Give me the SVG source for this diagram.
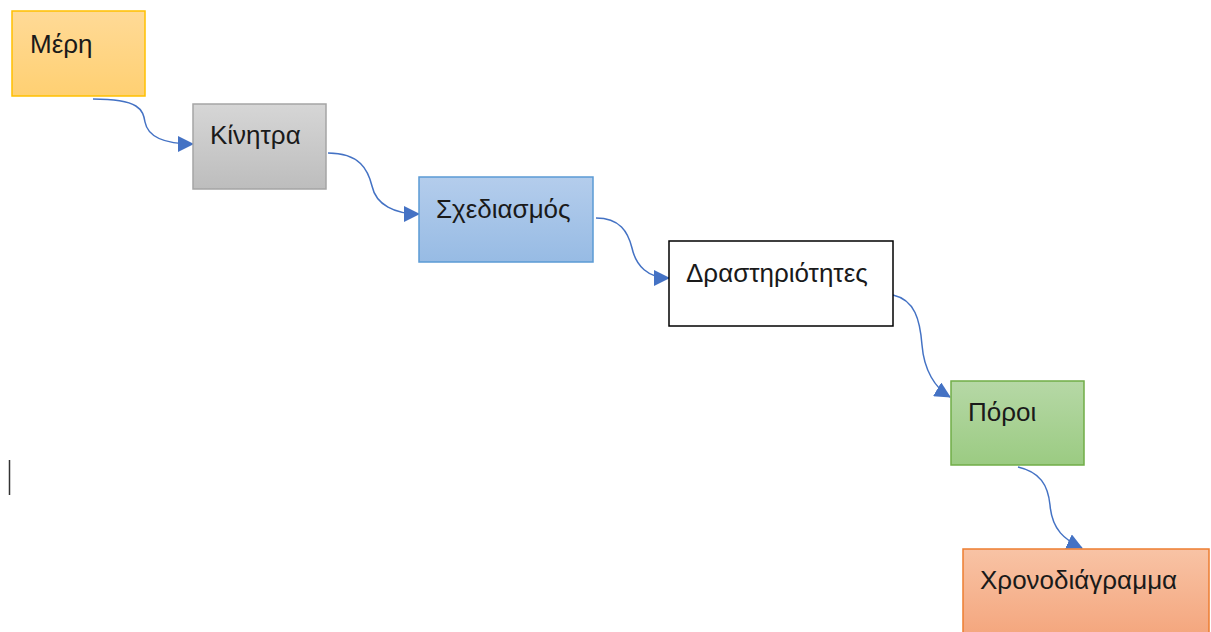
<svg xmlns="http://www.w3.org/2000/svg" width="1211" height="632" viewBox="0 0 1211 632">
  <style>
    .label { font-family: "Liberation Sans", "Noto Sans", sans-serif; font-size: 26px; fill: #1a1a1a; }
    .box { stroke-width: 1.5; }
    .conn { fill: none; stroke: #4472C4; stroke-width: 1.5; }
  </style>
  <defs>
    <linearGradient id="gOrange" x1="0" y1="0" x2="0" y2="1">
      <stop offset="0" stop-color="#FFDA97"/>
      <stop offset="1" stop-color="#FFD072"/>
    </linearGradient>
    <linearGradient id="gGray" x1="0" y1="0" x2="0" y2="1">
      <stop offset="0" stop-color="#D6D6D6"/>
      <stop offset="1" stop-color="#BDBDBD"/>
    </linearGradient>
    <linearGradient id="gBlue" x1="0" y1="0" x2="0" y2="1">
      <stop offset="0" stop-color="#B4CDEC"/>
      <stop offset="1" stop-color="#97BBE4"/>
    </linearGradient>
    <linearGradient id="gGreen" x1="0" y1="0" x2="0" y2="1">
      <stop offset="0" stop-color="#B6D8A6"/>
      <stop offset="1" stop-color="#9BCB82"/>
    </linearGradient>
    <linearGradient id="gCoral" x1="0" y1="0" x2="0" y2="1">
      <stop offset="0" stop-color="#F8C3A5"/>
      <stop offset="1" stop-color="#F4A57C"/>
    </linearGradient>
    <marker id="arrow" markerUnits="userSpaceOnUse" markerWidth="16" markerHeight="16" viewBox="0 0 16 16" refX="15" refY="8" orient="auto">
      <path d="M0,0 L16,8 L0,16 z" fill="#4472C4"/>
    </marker>
  </defs>

  <!-- connectors -->
  <g id="connectors">
    <path class="conn" marker-end="url(#arrow)" d="M93,99 C140,99 143,110 145,122 C148,138 165,144 193,144"/>
    <path class="conn" marker-end="url(#arrow)" d="M328,153 C360,153 368,170 372,186 C376,205 395,214 419,214"/>
    <path class="conn" marker-end="url(#arrow)" d="M596,218 C620,218 628,232 632,248 C636,266 648,278 669,278"/>
    <path class="conn" marker-end="url(#arrow)" d="M893,295 C915,300 920,320 922,345 C924,370 935,388 950,397"/>
    <path class="conn" marker-end="url(#arrow)" d="M1018,467 C1040,472 1048,485 1050,505 C1052,530 1065,540 1082,548"/>
  </g>

  <!-- nodes -->
  <g id="node-meri">
    <rect class="box" x="12" y="11" width="133" height="85" fill="url(#gOrange)" stroke="#FFC000"/>
    <text class="label" x="30" y="53">Μέρη</text>
  </g>
  <g id="node-kinitra">
    <rect class="box" x="193" y="104" width="133" height="85" fill="url(#gGray)" stroke="#A5A5A5"/>
    <text class="label" x="210" y="144">Κίνητρα</text>
  </g>
  <g id="node-schediasmos">
    <rect class="box" x="419" y="177" width="174" height="85" fill="url(#gBlue)" stroke="#5B9BD5"/>
    <text class="label" x="436" y="218">Σχεδιασμός</text>
  </g>
  <g id="node-drastiriotites">
    <rect class="box" x="669" y="241" width="224" height="85" fill="#FFFFFF" stroke="#000000"/>
    <text class="label" x="686" y="282">Δραστηριότητες</text>
  </g>
  <g id="node-poroi">
    <rect class="box" x="951" y="381" width="133" height="84" fill="url(#gGreen)" stroke="#70AD47"/>
    <text class="label" x="968" y="421">Πόροι</text>
  </g>
  <g id="node-chronodiagramma">
    <rect class="box" x="963" y="549" width="246" height="90" fill="url(#gCoral)" stroke="#ED7D31"/>
    <text class="label" x="980" y="589">Χρονοδιάγραμμα</text>
  </g>

  <!-- text cursor -->
  <line x1="9.5" y1="460" x2="9.5" y2="495" stroke="#333333" stroke-width="1.5"/>
</svg>
